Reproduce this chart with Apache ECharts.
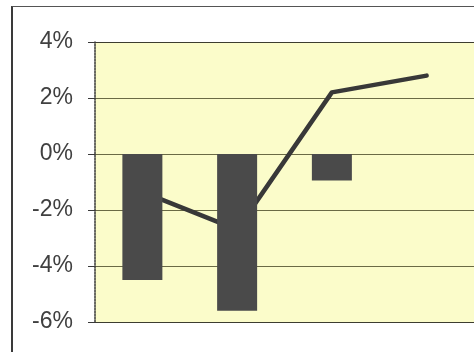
<!DOCTYPE html>
<html>
<head>
<meta charset="utf-8">
<script src="https://cdn.jsdelivr.net/npm/echarts@6/dist/echarts.min.js"></script>
<style>
  html, body { margin: 0; padding: 0; background: #ffffff; }
  #wrap { position: relative; width: 474px; height: 352px; overflow: hidden; }
  #frame { position: absolute; left: 11px; top: 6px; right: -4px; bottom: -4px;
           border-left: 2px solid #3a3a3a; border-top: 1.5px solid #555555; }
  #chart { position: absolute; left: 0; top: 0; width: 474px; height: 352px; }
</style>
</head>
<body>
<div id="wrap">
  <div id="frame"></div>
  <div id="chart"></div>
</div>
<script>
// Four periods; the bars show the change per period, the line the running trend.
const categories = ['P1', 'P2', 'P3', 'P4'];
const barValues = [-4.5, -5.6, -0.95, null];
const lineValues = [-1.35, -2.7, 2.2, 2.8];
const yTicks = { min: -6, max: 4, step: 2 };

const chart = echarts.init(document.getElementById('chart'), null, { renderer: 'canvas' });

chart.setOption({
  animation: false,
  backgroundColor: 'transparent',
  grid: {
    left: 95, top: 42, width: 382, height: 280,
    show: true, backgroundColor: '#fbfcca', borderWidth: 0
  },
  xAxis: {
    type: 'category',
    data: categories,
    boundaryGap: true,
    axisLine: { show: false },
    axisTick: { show: false },
    axisLabel: { show: false },
    splitLine: { show: false }
  },
  yAxis: {
    type: 'value',
    min: yTicks.min,
    max: yTicks.max,
    interval: yTicks.step,
    axisLine: { show: true, lineStyle: { color: '#3a3a3a', width: 1.5, type: [2, 1] } },
    axisTick: { show: true, length: 7, lineStyle: { color: '#3a3a3a', width: 1 } },
    axisLabel: {
      margin: 22,
      fontSize: 23,
      color: '#404040',
      fontFamily: 'Liberation Sans, Arial, sans-serif',
      formatter: v => v + '%'
    },
    splitLine: {
      show: true,
      lineStyle: {
        color: ['#3d3d30', '#6a6a45', '#6a6a45', '#6a6a45', '#6a6a45', '#3d3d30'],
        width: 1.2
      }
    }
  },
  series: [
    {
      type: 'line',
      data: lineValues,
      symbol: 'none',
      z: 1,
      lineStyle: { color: '#383838', width: 4.5, cap: 'round', join: 'round' }
    },
    {
      type: 'bar',
      data: barValues,
      barWidth: 40,
      z: 3,
      itemStyle: { color: '#4a4a4a' }
    }
  ]
});
</script>
</body>
</html>
